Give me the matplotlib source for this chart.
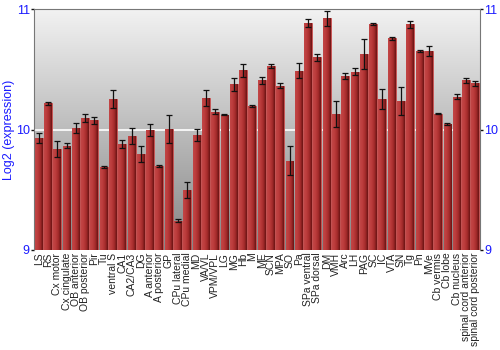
import numpy as np
import matplotlib.pyplot as plt
from matplotlib.colors import LinearSegmentedColormap

plt.rcParams['font.family'] = ['Liberation Sans', 'DejaVu Sans']

regions = ['LS', 'RS', 'Cx motor', 'Cx cingulate', 'OB anterior', 'OB posterior',
           'Pir', 'Tu', 'ventral S', 'CA1', 'CA2/CA3', 'DG', 'A anterior',
           'A posterior', 'GP', 'CPu lateral', 'CPu medial', 'MD', 'VA/VL',
           'VPM/VPL', 'LG', 'MG', 'Hb', 'M', 'ME', 'SCN', 'MPA', 'SO', 'Pa',
           'SPa ventral', 'SPa dorsal', 'DM', 'VMH', 'Arc', 'LH', 'PAG', 'SC',
           'IC', 'VTA', 'SN', 'Tg', 'Pn', 'MVe', 'Cb vermis', 'Cb lobe',
           'Cb nucleus', 'spinal cord anterior', 'spinal cord posterior']
expr = [9.927, 10.217, 9.838, 9.866, 10.01, 10.095, 10.076, 9.69, 10.253, 9.88,
        9.946, 9.797, 9.997, 9.697, 10.004, 9.243, 9.498, 9.954, 10.261, 10.148,
        10.123, 10.375, 10.491, 10.195, 10.408, 10.527, 10.364, 9.739, 10.488,
        10.884, 10.599, 10.923, 10.129, 10.441, 10.48, 10.629, 10.876, 10.25,
        10.757, 10.237, 10.873, 10.651, 10.654, 10.131, 10.046, 10.272, 10.408,
        10.383]
err = [0.04, 0.01, 0.07, 0.02, 0.04, 0.035, 0.03, 0.01, 0.075, 0.03,
       0.07, 0.065, 0.05, 0.01, 0.12, 0.015, 0.07, 0.05, 0.066, 0.02,
       0.005, 0.054, 0.055, 0.01, 0.03, 0.02, 0.02, 0.12, 0.064,
       0.03, 0.03, 0.063, 0.105, 0.025, 0.03, 0.125, 0.005, 0.083,
       0.01, 0.12, 0.03, 0.01, 0.04, 0.005, 0.005, 0.02, 0.02, 0.02]

fig = plt.figure(figsize=(5, 3.5), dpi=100)
ax = fig.add_axes([0.068, 0.286, 0.892, 0.688])
x = np.arange(len(regions))
ax.set_xlim(-0.5, len(regions) - 0.5)
ax.set_ylim(9, 11)

# background gradient
bg = LinearSegmentedColormap.from_list('bg', ['#868686', '#f2f2f2'])
ax.imshow(np.linspace(0, 1, 256)[:, None], extent=[-0.5, len(regions) - 0.5, 9, 11],
          origin='lower', aspect='auto', cmap=bg, zorder=0)
ax.axhline(10, color='white', lw=1.2, zorder=1)

bars = ax.bar(x, np.array(expr) - 9, bottom=9, width=0.85, color='#b33333',
              edgecolor='#c85050', linewidth=0.6, zorder=2)
barcm = LinearSegmentedColormap.from_list('bar', ['#c24646', '#bb3c3c', '#a52b2b', '#6a1414'])
grad = np.linspace(0, 1, 64)[None, :]
for b in bars:
    x0, y0 = b.get_x(), b.get_y()
    im = ax.imshow(grad, extent=[x0, x0 + b.get_width(), y0, y0 + b.get_height()],
                   aspect='auto', cmap=barcm, zorder=2.5)
    im.set_clip_path(b)

ax.errorbar(x, expr, yerr=err, fmt='none', ecolor='#111111', elinewidth=0.9,
            capsize=2, capthick=0.9, zorder=3)

ax.set_xticks(x)
ax.set_xticklabels(regions, rotation=90, fontsize=7.5, color='#222222')
ax.tick_params(axis='x', length=0, pad=2)
ax.set_yticks([9, 10, 11])
ax.tick_params(axis='y', colors='#111111', labelcolor='#1a1aff', labelsize=9,
               length=2, width=1, pad=1, right=True, labelright=True, direction='out')
ax.set_ylabel('Log2 (expression)', color='#1a1aff', fontsize=9)
ax.yaxis.set_label_coords(-0.042, 0.5)
for s in ax.spines.values():
    s.set_color('#777777')
    s.set_linewidth(0.8)
ax.spines['bottom'].set_visible(False)

fig.savefig('out.png', dpi=100)
